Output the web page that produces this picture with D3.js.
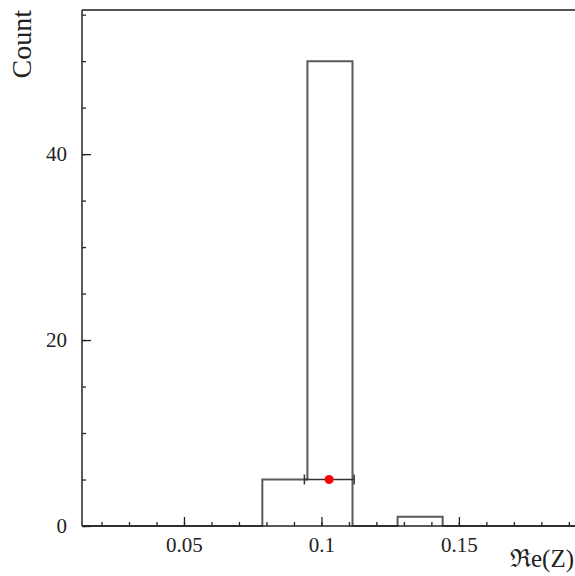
<!DOCTYPE html>
<html><head><meta charset="utf-8">
<script src="https://cdn.jsdelivr.net/npm/d3@7"></script>
<style>html,body{margin:0;padding:0;background:#fff;overflow:hidden}</style>
</head><body>
<script>
// Data
const binEdges = [0.0129,0.0293,0.0457,0.0621,0.0785,0.0949,0.1113,0.1277,0.1441,0.1605,0.1769,0.1933,0.2097];
const binCounts = [0,0,0,0,5,50,0,1,0,0,0,0];
const meanPoint = [0.1028, 5];
const meanErr = [0.0938, 0.1119];
const xTickLabels = ["0.05","0.1","0.15"];
const xTickValues = [0.05,0.1,0.15];
const yTickValues = [0,20,40];
const xTitle = "\u211Ce(Z)";
const yTitle = "Count";

const W=575,H=576;
const svg=d3.select("body").append("svg").attr("width",W).attr("height",H);
const x=d3.scaleLinear().domain([binEdges[0],binEdges[binEdges.length-1]]).range([82,623]);
const y=d3.scaleLinear().domain([0,55.5]).range([526,10]);
const font="'Liberation Serif','Times New Roman',serif";

// top frame
svg.append("line").attr("x1",82).attr("x2",W).attr("y1",y(55.5)).attr("y2",y(55.5))
  .attr("stroke","#555").attr("stroke-width",2);

// histogram outline
let pts=[[x(binEdges[0]),y(0)]];
binCounts.forEach((c,i)=>{pts.push([x(binEdges[i]),y(c)]);pts.push([x(binEdges[i+1]),y(c)]);});
pts.push([x(binEdges[binEdges.length-1]),y(0)]);
svg.append("path").attr("d",d3.line()(pts)).attr("fill","none").attr("stroke","#5a5a5a").attr("stroke-width",2);

// x axis
const xMinor=d3.range(0.02,0.205,0.01);
const gx=svg.append("g").attr("transform",`translate(0,${y(0)})`);
gx.call(d3.axisBottom(x).tickValues(xMinor).tickSize(-4).tickFormat(""));
gx.append("g").call(d3.axisBottom(x).tickValues(xTickValues).tickSize(-9).tickFormat((d,i)=>xTickLabels[i]));
gx.selectAll(".domain").remove();
gx.selectAll("line").attr("stroke","#222").attr("stroke-width",1.3);
gx.selectAll("text").attr("font-family",font).attr("font-size",21).attr("fill","#222").attr("y",11).attr("dy","0.71em");
svg.append("line").attr("x1",82).attr("x2",W).attr("y1",y(0)).attr("y2",y(0)).attr("stroke","#222").attr("stroke-width",1.6);

// y axis
const yMinor=d3.range(0,56,5);
const gy=svg.append("g").attr("transform",`translate(${x(binEdges[0])},0)`);
gy.call(d3.axisLeft(y).tickValues(yMinor).tickSize(-4).tickFormat(""));
gy.append("g").call(d3.axisLeft(y).tickValues(yTickValues).tickSize(-9).tickFormat(d3.format("d")));
gy.selectAll(".domain").remove();
gy.selectAll("line").attr("stroke","#222").attr("stroke-width",1.3);
gy.selectAll("text").attr("font-family",font).attr("font-size",21).attr("fill","#222").attr("x",-15);
svg.append("line").attr("x1",82).attr("x2",82).attr("y1",y(0)).attr("y2",y(55.5)).attr("stroke","#333").attr("stroke-width",1.6);

// mean marker with error bar
const my=y(meanPoint[1]);
svg.append("line").attr("x1",x(meanErr[0])).attr("x2",x(meanErr[1])).attr("y1",my).attr("y2",my).attr("stroke","#333").attr("stroke-width",1.5);
meanErr.forEach(v=>svg.append("line").attr("x1",x(v)).attr("x2",x(v)).attr("y1",my-5).attr("y2",my+5).attr("stroke","#333").attr("stroke-width",1.5));
svg.append("circle").attr("cx",x(meanPoint[0])).attr("cy",my).attr("r",4.5).attr("fill","#ff0000");

// titles
svg.append("text").attr("x",574).attr("y",567).attr("text-anchor","end").attr("font-family",font).attr("font-size",25).attr("fill","#222").text(xTitle);
svg.append("text").attr("transform","translate(31,10) rotate(-90)").attr("text-anchor","end").attr("font-family",font).attr("font-size",28).attr("fill","#222").text(yTitle);
</script>
</body></html>
